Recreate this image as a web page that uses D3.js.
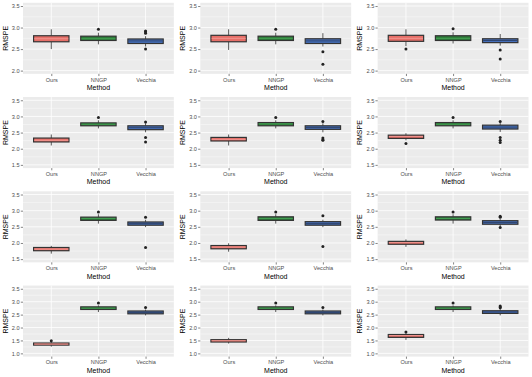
<!DOCTYPE html>
<html><head><meta charset="utf-8">
<script src="https://cdn.jsdelivr.net/npm/d3@7"></script>
<style>body{margin:0;background:#fff}svg{display:block}text{font-family:"Liberation Sans",Arial,sans-serif}</style>
</head><body>
<script>
const methods = ["Ours", "NNGP", "Vecchia"];
const fills = ["#E66F68", "#2C7A38", "#4670BC"];
const medianColors = ["#F29A94", "#47A557", "#2B3F66"];
const rowLimits = [[2.0, 3.5], [1.5, 3.5], [1.5, 3.5], [1.0, 3.5]];
const rowTicks = [[2.0, 2.5, 3.0, 3.5], [1.5, 2.0, 2.5, 3.0, 3.5], [1.5, 2.0, 2.5, 3.0, 3.5], [1.0, 1.5, 2.0, 2.5, 3.0, 3.5]];

// per panel (row-major, 12 panels), values for [Ours, NNGP, Vecchia]
const whiskerLow = [
  [2.50, 2.61, 2.56], [2.48, 2.61, 2.56], [2.57, 2.63, 2.58],
  [2.10, 2.63, 2.51], [2.10, 2.63, 2.51], [2.26, 2.63, 2.52],
  [1.67, 2.60, 2.49], [1.73, 2.60, 2.49], [1.88, 2.60, 2.52],
  [1.26, 2.60, 2.47], [1.38, 2.60, 2.47], [1.52, 2.60, 2.47]];
const q1 = [
  [2.67, 2.70, 2.63], [2.67, 2.70, 2.63], [2.68, 2.70, 2.65],
  [2.21, 2.71, 2.59], [2.24, 2.71, 2.60], [2.32, 2.71, 2.61],
  [1.76, 2.70, 2.55], [1.82, 2.70, 2.55], [1.96, 2.71, 2.58],
  [1.32, 2.70, 2.53], [1.44, 2.70, 2.53], [1.62, 2.70, 2.545]];
const median = [
  [2.74, 2.74, 2.69], [2.75, 2.75, 2.69], [2.75, 2.75, 2.70],
  [2.26, 2.76, 2.65], [2.29, 2.77, 2.66], [2.38, 2.76, 2.67],
  [1.81, 2.76, 2.60], [1.875, 2.76, 2.60], [2.01, 2.76, 2.635],
  [1.36, 2.75, 2.58], [1.49, 2.75, 2.58], [1.69, 2.75, 2.60]];
const q3 = [
  [2.81, 2.80, 2.735], [2.82, 2.80, 2.74], [2.82, 2.81, 2.74],
  [2.33, 2.80, 2.71], [2.35, 2.81, 2.71], [2.42, 2.81, 2.73],
  [1.86, 2.80, 2.65], [1.92, 2.81, 2.66], [2.05, 2.81, 2.69],
  [1.40, 2.80, 2.64], [1.53, 2.80, 2.64], [1.73, 2.80, 2.65]];
const whiskerHigh = [
  [2.96, 2.88, 2.80], [2.96, 2.88, 2.87], [2.96, 2.89, 2.85],
  [2.44, 2.88, 2.79], [2.44, 2.88, 2.79], [2.48, 2.88, 2.80],
  [1.91, 2.89, 2.72], [1.99, 2.89, 2.72], [2.11, 2.89, 2.74],
  [1.44, 2.86, 2.70], [1.60, 2.86, 2.70], [1.78, 2.86, 2.72]];
const outliers = [
  [[], [2.96], [2.92, 2.90, 2.87, 2.50]], [[], [2.96], [2.44, 2.15]], [[2.50], [2.97], [2.48, 2.27]],
  [[], [2.97], [2.83, 2.35, 2.21]], [[], [2.97], [2.84, 2.33, 2.28, 2.26]], [[2.16], [2.97], [2.84, 2.35, 2.26, 2.19]],
  [[], [2.96], [2.80, 1.86]], [[], [2.96], [2.84, 1.89]], [[], [2.96], [2.83, 2.80, 2.48]],
  [[1.49], [2.95], [2.78]], [[], [2.95], [2.78]], [[1.83], [2.95], [2.83, 2.79, 2.77]]];

const W = 532, H = 377, nCols = 3, nRows = 4;
const pw = W / nCols, ph = H / nRows;
const m = {left: 23, right: 3.5, top: 2.8, bottom: 20.4};

const svg = d3.select("body").append("svg").attr("width", W).attr("height", H);

for (let p = 0; p < 12; p++) {
  const r = Math.floor(p / nCols), c = p % nCols;
  const g = svg.append("g").attr("transform", `translate(${c * pw},${r * ph})`);
  const iw = pw - m.left - m.right, ih = ph - m.top - m.bottom;
  const [lo, hi] = rowLimits[r];
  const pad = (hi - lo) * 0.05;
  const y = d3.scaleLinear().domain([lo - pad, hi + pad]).range([m.top + ih, m.top]);
  const x = d3.scalePoint().domain(methods).range([m.left, m.left + iw]).padding(0.6);
  const step = x.step();

  g.append("rect").attr("x", m.left).attr("y", m.top).attr("width", iw).attr("height", ih).attr("fill", "#EBEBEB");
  const ticks = rowTicks[r];
  const minors = d3.pairs(ticks).map(([a, b]) => (a + b) / 2);
  g.selectAll(".minor").data(minors).join("line")
    .attr("x1", m.left).attr("x2", m.left + iw).attr("y1", d => y(d)).attr("y2", d => y(d))
    .attr("stroke", "#fff").attr("stroke-width", 0.4);
  g.selectAll(".major").data(ticks).join("line")
    .attr("x1", m.left).attr("x2", m.left + iw).attr("y1", d => y(d)).attr("y2", d => y(d))
    .attr("stroke", "#fff").attr("stroke-width", 0.8);
  g.selectAll(".vmaj").data(methods).join("line")
    .attr("x1", d => x(d)).attr("x2", d => x(d)).attr("y1", m.top).attr("y2", m.top + ih)
    .attr("stroke", "#fff").attr("stroke-width", 0.8);

  // axes
  const ya = g.append("g").attr("transform", `translate(${m.left},0)`)
    .call(d3.axisLeft(y).tickValues(ticks).tickFormat(d3.format(".1f")).tickSize(2.2).tickPadding(1.2));
  const xa = g.append("g").attr("transform", `translate(0,${m.top + ih})`)
    .call(d3.axisBottom(x).tickSize(2.2).tickPadding(1.5));
  [ya, xa].forEach(a => {
    a.select(".domain").remove();
    a.selectAll(".tick line").attr("stroke", "#333").attr("stroke-width", 0.6);
    a.selectAll(".tick text").attr("fill", "#4D4D4D").style("font-size", "5.6px").style("font-family", '"Liberation Sans",Arial,sans-serif');
  });

  g.append("text").attr("x", m.left + iw / 2).attr("y", ph - 4.2).attr("text-anchor", "middle")
    .style("font-size", "7px").attr("fill", "#000").text("Method");
  g.append("text").attr("transform", `translate(${7.5},${m.top + ih / 2}) rotate(-90)`).attr("text-anchor", "middle")
    .style("font-size", "7px").attr("fill", "#000").text("RMSPE");

  // boxes
  const bw = step * 0.75;
  methods.forEach((meth, i) => {
    const cx = x(meth);
    g.append("line").attr("x1", cx).attr("x2", cx).attr("y1", y(q3[p][i])).attr("y2", y(whiskerHigh[p][i]))
      .attr("stroke", "#444").attr("stroke-width", 0.9);
    g.append("line").attr("x1", cx).attr("x2", cx).attr("y1", y(q1[p][i])).attr("y2", y(whiskerLow[p][i]))
      .attr("stroke", "#444").attr("stroke-width", 0.9);
    g.append("rect").attr("x", cx - bw / 2).attr("width", bw)
      .attr("y", y(q3[p][i])).attr("height", y(q1[p][i]) - y(q3[p][i]))
      .attr("fill", fills[i]).attr("stroke", "#333").attr("stroke-width", 1.2);
    g.append("line").attr("x1", cx - bw / 2 + 0.6).attr("x2", cx + bw / 2 - 0.6).attr("y1", y(median[p][i])).attr("y2", y(median[p][i]))
      .attr("stroke", medianColors[i]).attr("stroke-width", 0.9);
    g.selectAll(null).data(outliers[p][i]).join("circle")
      .attr("cx", cx).attr("cy", d => y(d)).attr("r", 1.5).attr("fill", "#222");
  });
}
</script>
</body></html>
